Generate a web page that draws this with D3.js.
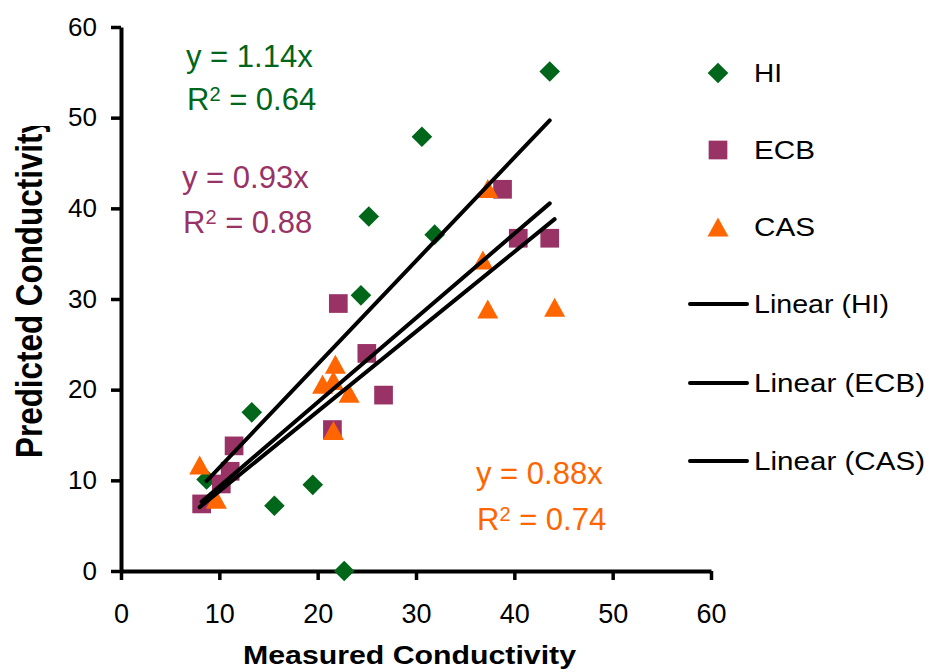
<!DOCTYPE html>
<html>
<head>
<meta charset="utf-8">
<title>Predicted vs measured conductivity</title>
<style>
  body { margin: 0; background: #fff; }
  text { font-family: "Liberation Sans", Arial, sans-serif; }
</style>
</head>
<body>
<script src="https://cdn.jsdelivr.net/npm/d3@7"></script>
<script>
  // values
  var seriesNames = ["HI", "ECB", "CAS"];
  var hiX  = [43.6, 30.6, 25.2, 31.9, 24.4, 13.3, 8.7, 15.6, 19.5, 22.7];
  var hiY  = [55.1, 47.9, 39.1, 37.1, 30.4, 17.5, 10.1, 7.2, 9.5, 0.0];
  var ecbX = [38.8, 40.4, 43.6, 22.1, 25.0, 26.7, 21.5, 11.5, 11.1, 10.2, 8.2];
  var ecbY = [42.1, 36.7, 36.7, 29.5, 24.0, 19.4, 15.6, 13.8, 11.0, 9.6, 7.4];
  var casX = [37.3, 36.8, 37.3, 44.1, 21.8, 20.5, 21.6, 23.2, 21.6, 8.0, 9.7];
  var casY = [42.2, 34.3, 28.9, 29.1, 22.8, 20.6, 21.0, 19.6, 15.5, 11.7, 7.9];
  var slopes = [1.14, 0.93, 0.88];
  var rSquared = ["0.64", "0.88", "0.74"];
  var xTicks = [0, 10, 20, 30, 40, 50, 60];
  var yTicks = [0, 10, 20, 30, 40, 50, 60];

  var colors = ["#006619", "#993366", "#ff6600"];

  var margin = {top: 27, right: 218, bottom: 101, left: 121};
  var width = 929 - margin.left - margin.right;
  var height = 672 - margin.top - margin.bottom;

  var x = d3.scaleLinear().domain([0, 60]).range([0, width]);
  var y = d3.scaleLinear().domain([0, 60]).range([height, 0]);

  var root = d3.select("body").append("svg")
    .attr("width", 929)
    .attr("height", 672);

  var svg = root.append("g")
    .attr("transform", "translate(" + margin.left + "," + margin.top + ")");

  // axes
  var xAxis = svg.append("g")
    .attr("transform", "translate(0," + height + ")")
    .call(d3.axisBottom(x).tickValues(xTicks).tickSize(9).tickPadding(24).tickSizeOuter(0));

  var yAxis = svg.append("g")
    .call(d3.axisLeft(y).tickValues(yTicks).tickSize(10).tickPadding(14).tickSizeOuter(0));

  [xAxis, yAxis].forEach(function(a) {
    a.select(".domain").attr("stroke", "#000").attr("stroke-width", 4);
    a.selectAll(".tick line").attr("stroke", "#000").attr("stroke-width", 3.5);
    a.selectAll(".tick text").attr("fill", "#000")
      .style("font-family", "'Liberation Sans', Arial, sans-serif");
  });
  xAxis.selectAll(".tick text").style("font-size", "27px");
  yAxis.selectAll(".tick text").style("font-size", "26px");

  // marker shapes
  function diamond(r) { return "M0," + (-r) + "L" + r + ",0L0," + r + "L" + (-r) + ",0Z"; }
  function square(s) { var h = s / 2; return "M" + (-h) + "," + (-h) + "h" + s + "v" + s + "h" + (-s) + "Z"; }
  function triangle(w, h) { return "M0," + (-h / 2) + "L" + (w / 2) + "," + (h / 2) + "L" + (-w / 2) + "," + (h / 2) + "Z"; }
  var shapes = [diamond(10.3), square(18.7), triangle(21, 19)];

  var series = [
    {name: seriesNames[0], xs: hiX, ys: hiY},
    {name: seriesNames[1], xs: ecbX, ys: ecbY},
    {name: seriesNames[2], xs: casX, ys: casY}
  ];

  series.forEach(function(s, i) {
    var pts = s.xs.map(function(v, j) { return [v, s.ys[j]]; });
    svg.append("g").selectAll("path")
      .data(pts)
      .enter().append("path")
      .attr("d", shapes[i])
      .attr("transform", function(d) { return "translate(" + x(d[0]) + "," + y(d[1]) + ")"; })
      .attr("fill", colors[i]);
  });

  // linear trendlines through the origin
  series.forEach(function(s, i) {
    var ext = d3.extent(s.xs);
    svg.append("line")
      .attr("x1", x(ext[0])).attr("y1", y(slopes[i] * ext[0]))
      .attr("x2", x(ext[1])).attr("y2", y(slopes[i] * ext[1]))
      .attr("stroke", "#000")
      .attr("stroke-width", 4)
      .attr("stroke-linecap", "round");
  });

  // trendline equations
  var eqPos = [[186, 67, 187, 110], [182, 188, 183, 233], [476, 484, 477, 530]];
  eqPos.forEach(function(p, i) {
    root.append("text")
      .attr("x", p[0]).attr("y", p[1])
      .attr("fill", colors[i])
      .style("font-size", "31px")
      .text("y = " + slopes[i].toFixed(2) + "x");
    var t = root.append("text")
      .attr("x", p[2]).attr("y", p[3])
      .attr("fill", colors[i])
      .style("font-size", "31px");
    t.append("tspan").text("R");
    t.append("tspan").attr("dy", -9).style("font-size", "20px").text("2");
    t.append("tspan").attr("dy", 9).text(" = " + rSquared[i]);
  });

  // legend
  var legendRows = [73, 150, 227, 304, 383, 461];
  var legendWidths = [28, 61, 61, 135, 171, 171];
  var legend = root.append("g");
  series.forEach(function(s, i) {
    legend.append("path")
      .attr("d", shapes[i])
      .attr("transform", "translate(718," + legendRows[i] + ")")
      .attr("fill", colors[i]);
    legend.append("text")
      .attr("x", 754).attr("y", legendRows[i]).attr("dy", "0.35em")
      .attr("textLength", legendWidths[i]).attr("lengthAdjust", "spacingAndGlyphs")
      .style("font-size", "25px")
      .text(s.name);
  });
  series.forEach(function(s, i) {
    var ry = legendRows[i + 3];
    legend.append("line")
      .attr("x1", 690).attr("x2", 747).attr("y1", ry).attr("y2", ry)
      .attr("stroke", "#000").attr("stroke-width", 4).attr("stroke-linecap", "round");
    legend.append("text")
      .attr("x", 754).attr("y", ry).attr("dy", "0.35em")
      .attr("textLength", legendWidths[i + 3]).attr("lengthAdjust", "spacingAndGlyphs")
      .style("font-size", "25px")
      .text("Linear (" + s.name + ")");
  });

  // axis titles
  root.append("text")
    .attr("x", 243).attr("y", 664)
    .attr("textLength", 333).attr("lengthAdjust", "spacingAndGlyphs")
    .style("font-size", "26px").style("font-weight", "bold")
    .text("Measured Conductivity");

  root.append("clipPath").attr("id", "ytclip")
    .append("rect").attr("x", 0).attr("y", 126).attr("width", 100).attr("height", 500);

  root.append("g").attr("clip-path", "url(#ytclip)")
    .append("text")
    .attr("transform", "translate(41.7,287) scale(1.2,1) rotate(-90)")
    .attr("text-anchor", "middle")
    .attr("textLength", 342).attr("lengthAdjust", "spacingAndGlyphs")
    .style("font-size", "30px").style("font-weight", "bold")
    .text("Predicted Conductivity");
</script>
</body>
</html>
